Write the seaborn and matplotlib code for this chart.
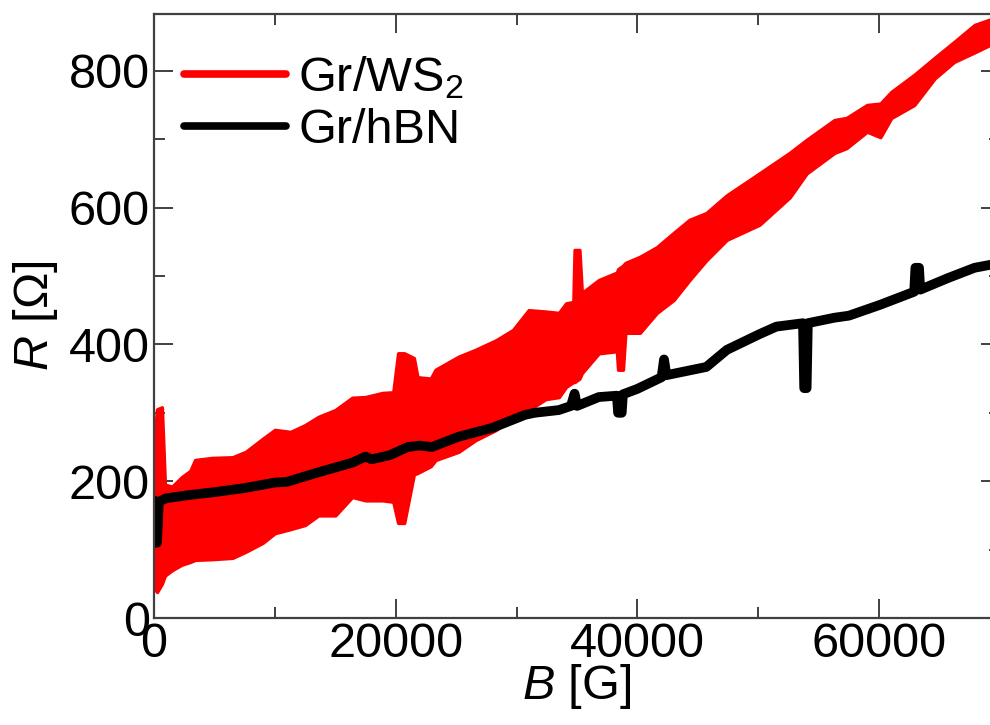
import matplotlib
matplotlib.use("Agg")
import matplotlib.pyplot as plt
import numpy as np
import pandas as pd
import seaborn as sns
from matplotlib.ticker import MultipleLocator

sns.set_style("ticks")
plt.rcParams["font.family"] = ["Liberation Sans", "DejaVu Sans"]
plt.rcParams["mathtext.fontset"] = "custom"
plt.rcParams["mathtext.rm"] = "Liberation Sans"
plt.rcParams["mathtext.it"] = "Liberation Sans:italic"
plt.rcParams["mathtext.default"] = "regular"
plt.rcParams["text.color"] = "black"
plt.rcParams["axes.labelcolor"] = "black"

red_B = [0, 250, 650, 900, 1500, 2300, 3000, 3400, 4800, 6500, 7600, 9000,
         10000, 11300, 12500, 13600, 15000, 16400, 17500, 18900, 19800, 20200,
         20700, 21500, 21800, 22900, 23300, 25200, 26600, 28300, 29700, 31000,
         32400, 33500, 34100, 34700, 34800, 35200, 35400, 36800, 38300, 38400,
         38800, 39000, 40200, 41600, 43000, 44300, 45700, 47400, 50100, 52600,
         54000, 56300, 57300, 59000, 60100, 61000, 62900, 64600, 66200, 67900,
         70000]
red_hi = [255, 305, 308, 195, 192, 206, 215, 231, 234, 235, 243, 262,
          275, 272, 282, 294, 304, 322, 323, 329, 330, 387,
          387, 380, 352, 350, 363, 382, 392, 406, 421, 450,
          448, 446, 460, 462, 538, 538, 475, 494, 505, 510,
          515, 519, 528, 542, 563, 582, 592, 618, 650, 680,
          699, 728, 731, 750, 752, 769, 794, 819, 842, 867,
          880]
red_lo = [45, 38, 50, 62, 70, 78, 82, 85, 86, 88, 97, 110,
          124, 130, 136, 150, 150, 177, 172, 172, 170, 139,
          139, 210, 212, 222, 231, 243, 260, 275, 294, 304,
          320, 323, 338, 345, 345, 350, 358, 387, 390, 363,
          363, 417, 417, 446, 465, 494, 523, 553, 575, 615,
          650, 680, 687, 711, 703, 731, 750, 789, 813, 827,
          845]

# Gr/hBN
black_B = [0, 100, 250, 400, 1000, 3000, 5000, 7500, 10000, 11000, 13600,
           16400, 17500, 18000, 19500, 21000, 22000, 23000, 25200, 28000,
           30700, 31500, 33500, 34500, 34800, 35000, 36800, 38300, 38400,
           38700, 38800, 40000, 42000, 42200, 42400, 45700, 47400, 50100,
           51500, 53700, 53800, 54000, 54100, 56300, 57500, 60100, 62900,
           63000, 63300, 63400, 65700, 67900, 70000]
black_R = [172, 110, 110, 170, 175, 180, 184, 190, 198, 199, 213,
           227, 236, 232, 238, 250, 252, 250, 265, 278,
           297, 300, 304, 310, 328, 310, 323, 325, 300,
           300, 327, 335, 352, 378, 355, 367, 392, 415,
           426, 431, 336, 336, 431, 439, 442, 458, 477,
           512, 512, 480, 497, 512, 519]

red_df = pd.DataFrame({"B": red_B + red_B, "R": red_hi + red_lo})
black_df = pd.DataFrame({"B": black_B, "R": black_R})

fig = plt.figure(figsize=(9.9, 7.25), dpi=100)
ax = fig.add_axes([154 / 990, 107 / 725, 846 / 990, 604 / 725])

sns.lineplot(data=red_df, x="B", y="R", estimator="mean", errorbar=("pi", 100),
             color="red", lw=5.5,
             err_kws={"alpha": 1, "lw": 2.5, "edgecolor": "red"},
             label="Gr/WS$_2$", ax=ax)
sns.lineplot(data=black_df, x="B", y="R", estimator=None, sort=False,
             color="black", lw=7, label="Gr/hBN", ax=ax)

ax.set_xlim(0, 70000)
ax.set_ylim(0, 883)
ax.xaxis.set_major_locator(MultipleLocator(20000))
ax.xaxis.set_minor_locator(MultipleLocator(10000))
ax.yaxis.set_major_locator(MultipleLocator(200))
ax.yaxis.set_minor_locator(MultipleLocator(100))
ax.tick_params(which="both", direction="in", top=True, right=True,
               color="#404040", labelcolor="black", width=1.4,
               labelsize=35, pad=3)
ax.tick_params(which="major", length=13.5)
ax.tick_params(which="minor", length=8)
for s in ax.spines.values():
    s.set_color("#404040")
    s.set_linewidth(1.6)

ax.set_xlabel("$\\mathit{B}$ [G]", fontsize=35, labelpad=-4)
ax.set_ylabel("$\\mathit{R}$ [Ω]", fontsize=35, labelpad=6)

leg = ax.legend(loc="upper left", bbox_to_anchor=(-0.012, 1.0), frameon=False,
                fontsize=35, handlelength=2.1, handletextpad=0.25,
                labelspacing=0.15, borderaxespad=0.43)
for h in leg.get_lines():
    h.set_linewidth(5.5)

fig.savefig("out.png", dpi=100)
